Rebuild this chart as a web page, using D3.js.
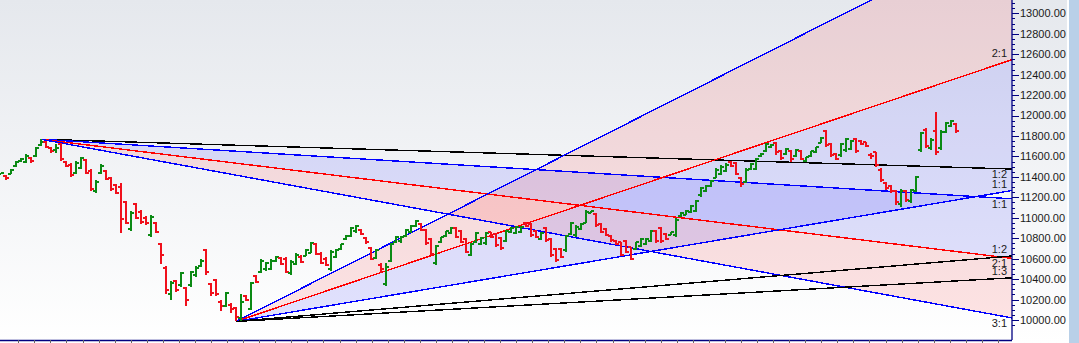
<!DOCTYPE html>
<html>
<head>
<meta charset="utf-8">
<script src="https://cdn.jsdelivr.net/npm/d3@7/dist/d3.min.js"></script>
<style>
  body { margin: 0; background: #fff; overflow: hidden; }
  svg { display: block; font-family: "Liberation Sans", Arial, sans-serif; }
</style>
</head>
<body>
<div class="canvas"></div>
<script>
// price bars (daily OHLC)
const opens = [
  11430, 11405, 11430, 11505, 11555, 11545, 11580, 11600, 11710, 11745,
  11680, 11660, 11720, 11550, 11520, 11440, 11490, 11565, 11460, 11260,
  11440, 11460, 11385, 11320, 11300, 11150, 10890, 11130, 11060, 11000,
  10830, 10950, 10740, 10510, 10250, 10380, 10340, 10310, 10340, 10440,
  10530, 10680, 10350, 10390, 10180, 10140, 10150, 10120, 10020, 10230,
  10110, 10430, 10470, 10500, 10500, 10580, 10610, 10600, 10460, 10550,
  10620, 10630, 10660, 10740, 10650, 10600, 10500, 10620, 10690, 10790,
  10820, 10870, 10880, 10800, 10700, 10610, 10540, 10350, 10580, 10760,
  10770, 10820, 10860, 10920, 10940, 10880, 10790, 10560, 10760, 10820,
  10850, 10900, 10870, 10790, 10640, 10760, 10740, 10750, 10860, 10840,
  10800, 10770, 10860, 10850, 10860, 10950, 10940, 10870, 10790, 10900,
  10790, 10690, 10690, 10680, 10840, 10830, 10890, 10950, 11050, 11040,
  10940, 10890, 10820, 10775, 10760, 10770, 10710, 10690, 10720, 10740,
  10770, 10870, 10900, 10840, 10835, 10830, 11020, 11030, 11060, 11070,
  11220, 11260, 11310, 11390, 11430, 11460, 11545, 11540, 11390, 11350,
  11475, 11480, 11600, 11650, 11690, 11735, 11650, 11620, 11650, 11600,
  11655, 11555, 11600, 11640, 11735, 11850, 11725, 11620, 11610, 11660,
  11670, 11770, 11755, 11740, 11610, 11640, 11470, 11340, 11310, 11265,
  11130, 11260, 11160, 11260, 11660, 11860, 11680, 11850, 11680, 11840,
  11900, 11915
];
const highs = [
  11441, 11419, 11474, 11555, 11582, 11624, 11598, 11695, 11768, 11754,
  11695, 11722, 11734, 11558, 11533, 11555, 11592, 11572, 11474, 11370,
  11523, 11467, 11396, 11330, 11343, 11167, 11069, 11148, 11076, 11017,
  11027, 10962, 10756, 10529, 10385, 10392, 10473, 10320, 10483, 10529,
  10594, 10692, 10365, 10398, 10196, 10277, 10164, 10125, 10255, 10245,
  10375, 10441, 10594, 10571, 10594, 10626, 10620, 10620, 10587, 10653,
  10636, 10692, 10766, 10751, 10668, 10614, 10685, 10692, 10744, 10832,
  10913, 10932, 10887, 10815, 10717, 10692, 10555, 10555, 10751, 10822,
  10822, 10887, 10930, 10978, 10946, 10887, 10799, 10734, 10815, 10874,
  10907, 10907, 10881, 10799, 10756, 10864, 10815, 10864, 10864, 10848,
  10809, 10881, 10913, 10920, 10920, 10962, 10946, 10881, 10864, 10913,
  10799, 10702, 10702, 10832, 10962, 10930, 10946, 11076, 11069, 11044,
  10946, 10897, 10832, 10783, 10766, 10783, 10717, 10766, 10799, 10799,
  10881, 10881, 10913, 10848, 10864, 10995, 11060, 11076, 11125, 11174,
  11304, 11321, 11370, 11484, 11516, 11533, 11555, 11549, 11396, 11484,
  11533, 11582, 11631, 11729, 11722, 11744, 11663, 11680, 11663, 11670,
  11663, 11598, 11656, 11695, 11793, 11859, 11734, 11631, 11729, 11777,
  11761, 11777, 11761, 11744, 11631, 11646, 11484, 11353, 11321, 11272,
  11279, 11272, 11279, 11409, 11842, 11875, 11777, 12038, 11859, 11940,
  11956, 11924
];
const lows = [
  11428, 11370, 11428, 11500, 11549, 11539, 11533, 11592, 11705, 11680,
  11637, 11637, 11558, 11500, 11396, 11428, 11474, 11428, 11265, 11245,
  11428, 11370, 11265, 11233, 10854, 10939, 10874, 10985, 10939, 10930,
  10815, 10848, 10548, 10255, 10196, 10277, 10326, 10137, 10326, 10424,
  10522, 10441, 10235, 10235, 10091, 10125, 10072, 9986, 9993, 10189,
  10098, 10359, 10457, 10483, 10489, 10571, 10538, 10457, 10441, 10538,
  10555, 10626, 10653, 10636, 10548, 10529, 10483, 10604, 10685, 10783,
  10809, 10854, 10832, 10744, 10587, 10594, 10463, 10333, 10571, 10751,
  10751, 10815, 10854, 10913, 10874, 10734, 10636, 10538, 10756, 10815,
  10841, 10799, 10751, 10653, 10626, 10751, 10734, 10734, 10799, 10717,
  10685, 10766, 10848, 10841, 10848, 10913, 10815, 10799, 10783, 10766,
  10620, 10571, 10604, 10668, 10832, 10815, 10881, 10946, 11044, 10913,
  10848, 10822, 10766, 10734, 10626, 10653, 10587, 10685, 10717, 10734,
  10766, 10751, 10751, 10783, 10832, 10815, 11011, 11027, 11047, 11060,
  11206, 11255, 11304, 11386, 11419, 11451, 11500, 11419, 11304, 11343,
  11467, 11467, 11598, 11646, 11680, 11614, 11565, 11614, 11549, 11592,
  11565, 11549, 11592, 11637, 11729, 11695, 11598, 11565, 11598, 11646,
  11663, 11631, 11712, 11695, 11572, 11500, 11353, 11272, 11240, 11125,
  11109, 11157, 11142, 11255, 11640, 11680, 11663, 11614, 11663, 11826,
  11891, 11832
];
const closes = [
  11440, 11390, 11465, 11545, 11575, 11600, 11560, 11685, 11740, 11690,
  11650, 11680, 11575, 11510, 11420, 11540, 11580, 11440, 11280, 11350,
  11510, 11380, 11280, 11245, 10990, 10950, 11050, 11000, 10960, 10950,
  11010, 10860, 10640, 10290, 10360, 10290, 10460, 10200, 10470, 10510,
  10580, 10470, 10260, 10250, 10140, 10260, 10110, 10030, 10180, 10200,
  10360, 10370, 10580, 10560, 10580, 10620, 10550, 10470, 10570, 10640,
  10570, 10680, 10750, 10650, 10560, 10540, 10670, 10680, 10740, 10820,
  10900, 10920, 10840, 10760, 10600, 10680, 10500, 10520, 10740, 10810,
  10815, 10880, 10920, 10970, 10880, 10750, 10650, 10720, 10810, 10870,
  10900, 10810, 10760, 10670, 10740, 10850, 10800, 10850, 10810, 10730,
  10700, 10870, 10900, 10910, 10910, 10920, 10830, 10810, 10850, 10780,
  10640, 10590, 10620, 10820, 10950, 10910, 10940, 11060, 11065, 10930,
  10860, 10830, 10780, 10745, 10640, 10670, 10600, 10760, 10790, 10790,
  10870, 10770, 10770, 10790, 10860, 10980, 11050, 11070, 11115, 11160,
  11290, 11310, 11360, 11470, 11500, 11520, 11510, 11430, 11330, 11470,
  11525, 11570, 11625, 11720, 11715, 11640, 11580, 11670, 11570, 11660,
  11575, 11590, 11650, 11690, 11785, 11710, 11610, 11575, 11720, 11770,
  11750, 11650, 11720, 11705, 11600, 11520, 11370, 11290, 11260, 11150,
  11260, 11170, 11270, 11400, 11830, 11700, 11765, 11640, 11840, 11930,
  11950, 11850
];

// gann fans: pivot bar, pivot price, price per bar for 1:1, ratios and labels
const topPivot = 8, topPrice = 11768, topUnit = -3.0;
const topRatios = [0.5, 1, 2, 3];
const topLabels = ["1:2", "1:1", "2:1", "3:1"];
const lowPivot = 47, lowPrice = 9986, lowUnit = 8.25;
const lowRatios = [3, 2, 1, 0.5, 1 / 3];
const lowLabels = ["3:1", "2:1", "1:1", "1:2", "1:3"];

const yTicks = [10000, 10200, 10400, 10600, 10800, 11000, 11200, 11400,
  11600, 11800, 12000, 12200, 12400, 12600, 12800, 13000];

const W = 1079, H = 343;
const plotW = 1012, plotH = 340;

const svg = d3.select(".canvas").append("svg")
  .attr("width", W).attr("height", H);

const defs = svg.append("defs");
const grad = defs.append("linearGradient").attr("id", "bg")
  .attr("x1", 0).attr("x2", 0).attr("y1", 0).attr("y2", 1);
grad.append("stop").attr("offset", "0%").attr("stop-color", "#e5e8ed");
grad.append("stop").attr("offset", "100%").attr("stop-color", "#ffffff");

defs.append("clipPath").attr("id", "plot")
  .append("rect").attr("width", plotW).attr("height", plotH);

svg.append("rect").attr("width", 1067).attr("height", H).attr("fill", "url(#bg)");
svg.append("rect").attr("x", 1067).attr("width", 2).attr("height", H).attr("fill", "#ffffff");
svg.append("rect").attr("x", 1069).attr("width", 10).attr("height", H).attr("fill", "#b9d0e8");

//scales
const x = d3.scaleLinear().domain([-0.2, 202.2]).range([0, plotW]);
const y = d3.scaleLinear().domain([10000, 13000]).range([320, 13.3]);
const lastX = x.domain()[1];

const plot = svg.append("g").attr("clip-path", "url(#plot)");

//fan geometry helper
const fanEnd = (pivot, price, unit, r) => [lastX, price + unit * r * (lastX - pivot)];

const fans = [
  { pivot: topPivot, price: topPrice, unit: topUnit, ratios: topRatios, labels: topLabels,
    colors: ["#000000", "#0000ff", "#ff0000", "#0000ff"],
    fills: [[1, 2, "rgba(40,40,255,0.13)"], [2, 3, "rgba(255,30,30,0.12)"]] },
  { pivot: lowPivot, price: lowPrice, unit: lowUnit, ratios: lowRatios, labels: lowLabels,
    colors: ["#0000ff", "#ff0000", "#0000ff", "#000000", "#000000"],
    fills: [[0, 1, "rgba(255,30,30,0.12)"], [1, 2, "rgba(40,40,255,0.13)"]] }
];

const fillLayer = plot.append("g");
const lineLayer = plot.append("g");
const labelLayer = svg.append("g");

fans.forEach((f) => {
  const ends = f.ratios.map((r) => fanEnd(f.pivot, f.price, f.unit, r));
  const origin = [x(f.pivot), y(f.price)];

  f.fills.forEach(([a, b, c]) => {
    const pts = [origin, [x(ends[a][0]), y(ends[a][1])], [x(ends[b][0]), y(ends[b][1])]];
    fillLayer.append("path")
      .attr("d", "M" + pts.join("L") + "Z")
      .attr("fill", c);
  });

  ends.forEach((e, k) => {
    lineLayer.append("line")
      .attr("x1", origin[0]).attr("y1", origin[1])
      .attr("x2", x(e[0])).attr("y2", y(e[1]))
      .attr("stroke", f.colors[k])
      .attr("stroke-width", 1.4)
      .attr("shape-rendering", "crispEdges");

    const ey = y(e[1]);
    if (ey < 0 || ey > plotH) return;
    labelLayer.append("text")
      .attr("x", 1007)
      .attr("y", f.unit < 0 ? ey + 9 : ey - 3)
      .attr("text-anchor", "end")
      .attr("font-size", 11)
      .attr("fill", "#1a1a1a")
      .text(f.labels[k]);
  });
});

//ohlc bars
const bars = plot.append("g")
  .attr("shape-rendering", "crispEdges")
  .attr("stroke-width", 2);

opens.forEach((o, i) => {
  const col = closes[i] >= o ? "#0b8a14" : "#f0101c";
  const cx = Math.round(x(i));
  const g = bars.append("g").attr("stroke", col);
  g.append("line").attr("x1", cx).attr("x2", cx)
    .attr("y1", y(highs[i])).attr("y2", y(lows[i]));
  g.append("line").attr("x1", cx - 3).attr("x2", cx)
    .attr("y1", Math.round(y(o))).attr("y2", Math.round(y(o)));
  g.append("line").attr("x1", cx).attr("x2", cx + 3)
    .attr("y1", Math.round(y(closes[i]))).attr("y2", Math.round(y(closes[i])));
});

//right axis
const yAxisGroup = svg.append("g").attr("transform", `translate(${plotW},0)`);
yAxisGroup.append("line").attr("y1", 0).attr("y2", plotH)
  .attr("stroke", "#000080").attr("stroke-width", 1.3);
const minor = d3.range(9950, 13151, 50);
yAxisGroup.selectAll(".mt").data(minor).enter().append("line")
  .attr("x1", 0).attr("x2", (d) => (d % 200 === 0 ? 7 : 3))
  .attr("y1", (d) => Math.round(y(d)) + 0.5).attr("y2", (d) => Math.round(y(d)) + 0.5)
  .attr("stroke", "#000080").attr("stroke-width", 1);
yAxisGroup.selectAll("text").data(yTicks).enter().append("text")
  .attr("x", 8).attr("y", (d) => y(d)).attr("dy", "0.36em")
  .attr("font-size", 11).attr("fill", "#1a1a1a")
  .text((d) => d.toFixed(2));

//bottom axis
const xAxisGroup = svg.append("g");
xAxisGroup.append("line").attr("x1", 0).attr("x2", plotW)
  .attr("y1", plotH + 0.5).attr("y2", plotH + 0.5)
  .attr("stroke", "#000080").attr("stroke-width", 1.5);
const xTicks = d3.range(3.46, 202, 3.212);
xAxisGroup.selectAll(".xt").data(xTicks).enter().append("line")
  .attr("x1", (d) => Math.round(x(d)) + 0.5).attr("x2", (d) => Math.round(x(d)) + 0.5)
  .attr("y1", plotH).attr("y2", plotH + 4)
  .attr("stroke", "#666").attr("stroke-width", 1);
</script>
</body>
</html>
